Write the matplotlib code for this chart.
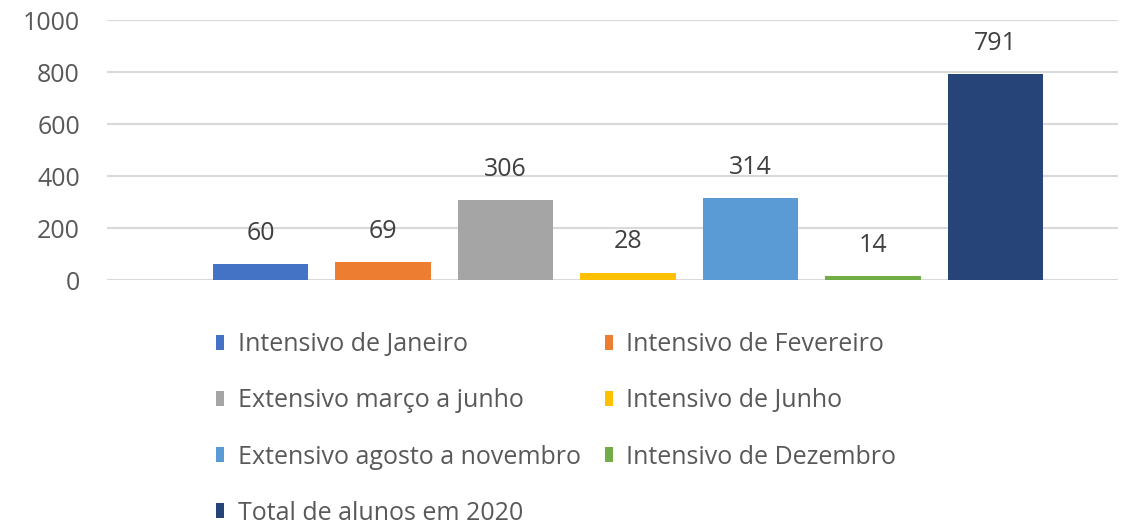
import matplotlib
matplotlib.use('Agg')
import matplotlib.pyplot as plt  # noqa: E402
from matplotlib.patches import Patch  # noqa: E402

SERIES = ['Intensivo de Janeiro', 'Intensivo de Fevereiro', 'Extensivo março a junho',
          'Intensivo de Junho', 'Extensivo agosto a novembro', 'Intensivo de Dezembro',
          'Total de alunos em 2020']
VALUES = [60, 69, 306, 28, 314, 14, 791]
COLORS = ['#4472C4', '#ED7D31', '#A5A5A5', '#FFC000', '#5B9BD5', '#70AD47', '#264478']
YTICKS = [0, 200, 400, 600, 800, 1000]

TEXT_GRAY = '#595959'
FONT = 'Open Sans'
FS = 18

plt.rcParams['font.family'] = [FONT, 'DejaVu Sans']

fig = plt.figure(figsize=(11.27, 5.25), dpi=100)
ax = fig.add_axes([107 / 1127, 245 / 525, 1011 / 1127, 260 / 525])

positions = list(range(len(VALUES)))
ax.bar(positions, VALUES, width=0.776, color=COLORS, zorder=3)
for pos, val in zip(positions, VALUES):
    ax.annotate(str(val), (pos, val), xytext=(0, 31), textcoords='offset pixels',
                ha='center', va='center', fontsize=FS, color='#404040')

ax.set_xlim(-1.253, 7.0)
ax.set_ylim(0, 1000)
ax.set_yticks(YTICKS)
ax.set_xticks([])
ax.grid(axis='y', color='#D9D9D9', linewidth=1.5, zorder=0)
for side in ['top', 'right', 'left', 'bottom']:
    ax.spines[side].set_visible(False)
ax.tick_params(axis='y', length=0, pad=19.5, labelsize=FS, labelcolor=TEXT_GRAY)

# legend fills row by row in the reference: reorder for column-major layout
order = [0, 2, 4, 6, 1, 3, 5]
handles = [Patch(facecolor=COLORS[i], label=SERIES[i]) for i in order]
fig.legend(handles=handles, ncol=2, loc='upper left', bbox_to_anchor=(216 / 1127, 1 - 332 / 525),
           frameon=False, fontsize=FS, labelcolor=TEXT_GRAY, handlelength=0.32, handleheight=0.55,
           handletextpad=0.55, labelspacing=1.25, columnspacing=0.95, borderpad=0, borderaxespad=0)

fig.savefig('out.png', dpi=100)
